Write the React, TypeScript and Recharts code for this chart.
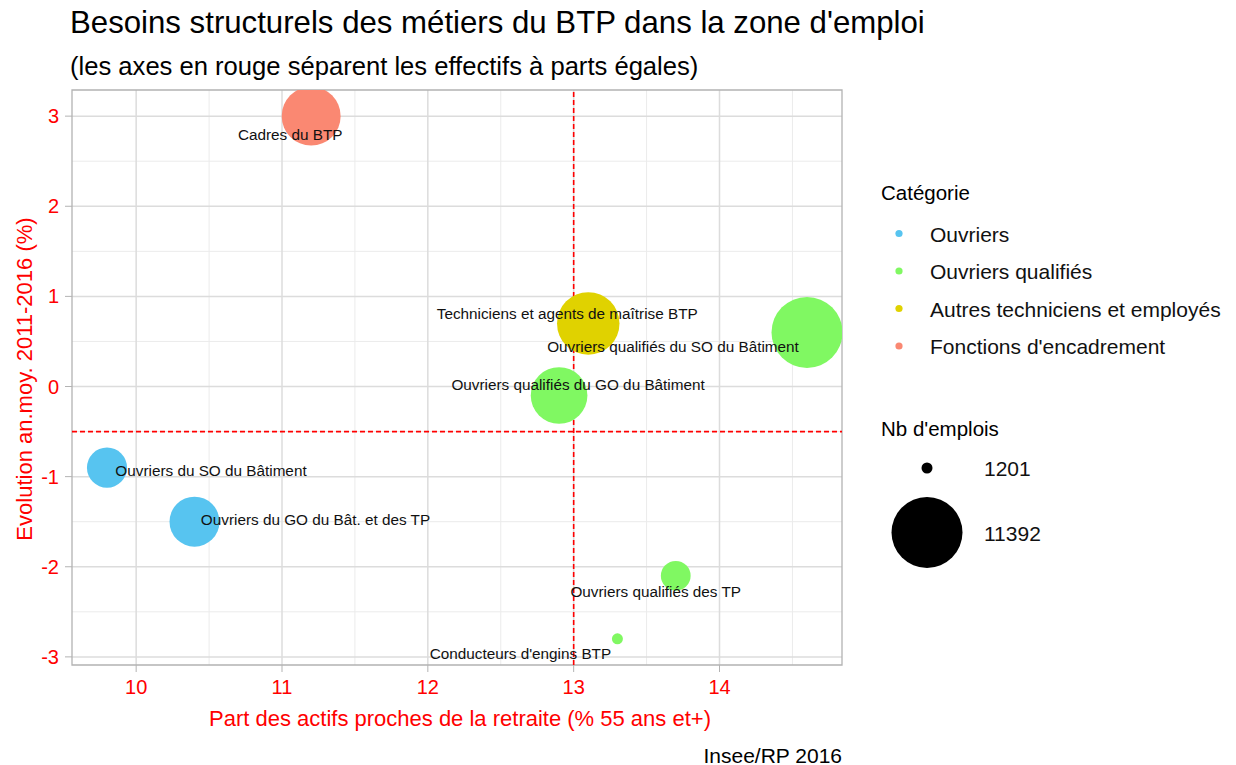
import React from 'react';
import {
  ScatterChart,
  Scatter,
  XAxis,
  YAxis,
  CartesianGrid,
  ReferenceLine,
  ReferenceArea,
} from 'recharts';

// métiers du BTP
const metiers = [
  'Cadres du BTP',
  'Techniciens et agents de maîtrise BTP',
  'Ouvriers qualifiés du SO du Bâtiment',
  'Ouvriers qualifiés du GO du Bâtiment',
  'Ouvriers du SO du Bâtiment',
  'Ouvriers du GO du Bât. et des TP',
  'Ouvriers qualifiés des TP',
  "Conducteurs d'engins BTP",
];
const categorieMetier = [
  "Fonctions d'encadrement",
  'Autres techniciens et employés',
  'Ouvriers qualifiés',
  'Ouvriers qualifiés',
  'Ouvriers',
  'Ouvriers',
  'Ouvriers qualifiés',
  'Ouvriers qualifiés',
];
const partRetraite = [11.2, 13.1, 14.6, 12.9, 9.8, 10.4, 13.7, 13.3];
const evolution = [3.0, 0.7, 0.6, -0.1, -0.9, -1.5, -2.1, -2.8];
const nbEmplois = [7700, 8700, 11392, 7100, 3600, 5500, 2200, 1201];

const categories = ['Ouvriers', 'Ouvriers qualifiés', 'Autres techniciens et employés', "Fonctions d'encadrement"];
const sizeBreaks = [1201, 11392];
const xTicks = [10, 11, 12, 13, 14];
const yTicks = [-3, -2, -1, 0, 1, 2, 3];
const xMinor = [10.5, 11.5, 12.5, 13.5, 14.5];
const yMinor = [-2.5, -1.5, -0.5, 0.5, 1.5, 2.5];
const seuilX = 13;
const seuilY = -0.5;

const couleurs: Record<string, string> = {
  Ouvriers: '#57C4F0',
  'Ouvriers qualifiés': '#80F862',
  'Autres techniciens et employés': '#E0D200',
  "Fonctions d'encadrement": '#FA8872',
};

// décalage des étiquettes (px), comme placées dans l'original
const labelNudge: Record<string, [number, number]> = {
  'Cadres du BTP': [-21, 18],
  'Techniciens et agents de maîtrise BTP': [-21, -10],
  'Ouvriers qualifiés du SO du Bâtiment': [-134, 14],
  'Ouvriers qualifiés du GO du Bâtiment': [19, -11],
  'Ouvriers du SO du Bâtiment': [104, 3],
  'Ouvriers du GO du Bât. et des TP': [121, -2],
  'Ouvriers qualifiés des TP': [-20, 16],
  "Conducteurs d'engins BTP": [-97, 15],
};

const FONT = '"Liberation Sans", Arial, sans-serif';
const X_DOMAIN: [number, number] = [9.56, 14.84];
const Y_DOMAIN: [number, number] = [-3.09, 3.29];
const R_MIN = 5.5;
const R_MAX = 35.5;

const nMin = Math.min(...sizeBreaks);
const nMax = Math.max(...sizeBreaks);
const radius = (n: number) => R_MIN + (R_MAX - R_MIN) * Math.sqrt((n - nMin) / (nMax - nMin));

const points = metiers.map((name, i) => ({
  name,
  cat: categorieMetier[i],
  x: partRetraite[i],
  y: evolution[i],
  n: nbEmplois[i],
}));

const Bubble = (props: any) => {
  const { cx, cy, payload, fill } = props;
  if (cx == null || cy == null) return null;
  return <circle cx={cx} cy={cy} r={radius(payload.n)} fill={fill} />;
};

const PointLabel = (props: any) => {
  const { cx, cy, payload } = props;
  if (cx == null || cy == null) return null;
  const [dx, dy] = labelNudge[payload.name] || [0, 0];
  return (
    <text
      x={cx + dx}
      y={cy + dy}
      textAnchor="middle"
      dominantBaseline="central"
      fontSize={15.3}
      fontFamily={FONT}
      fill="#111"
    >
      {payload.name}
    </text>
  );
};

export default function App() {
  return (
    <div
      style={{
        position: 'absolute',
        left: 0,
        top: 0,
        width: 1236,
        height: 765,
        background: '#fff',
        fontFamily: FONT,
      }}
    >
      <ScatterChart width={1236} height={765} margin={{ top: 90, right: 394, bottom: 30, left: 0 }}>
        <CartesianGrid
          verticalValues={xMinor}
          horizontalValues={yMinor}
          stroke="#ebebeb"
          strokeWidth={1}
        />
        <CartesianGrid
          verticalValues={xTicks}
          horizontalValues={yTicks}
          stroke="#dcdcdc"
          strokeWidth={1.5}
        />
        <XAxis
          type="number"
          dataKey="x"
          domain={X_DOMAIN}
          ticks={xTicks}
          allowDataOverflow
          height={70}
          axisLine={false}
          tickSize={7}
          tickMargin={8}
          tickLine={{ stroke: '#b3b3b3' }}
          tick={{ fill: '#FF0000', fontSize: 20, fontFamily: FONT }}
        />
        <YAxis
          type="number"
          dataKey="y"
          domain={Y_DOMAIN}
          ticks={yTicks}
          allowDataOverflow
          width={72}
          axisLine={false}
          tickSize={7}
          tickMargin={6}
          tickLine={{ stroke: '#b3b3b3' }}
          tick={{ fill: '#FF0000', fontSize: 20, fontFamily: FONT }}
        />
        {categories.map((cat) => (
          <Scatter
            key={cat}
            name={cat}
            data={points.filter((p) => p.cat === cat)}
            fill={couleurs[cat]}
            shape={<Bubble />}
            isAnimationActive={false}
          />
        ))}
        <ReferenceLine x={seuilX} stroke="#FF0000" strokeWidth={1.6} strokeDasharray="5 3" />
        <ReferenceLine y={seuilY} stroke="#FF0000" strokeWidth={1.6} strokeDasharray="5 3" />
        <Scatter data={points} shape={<PointLabel />} isAnimationActive={false} />
        <ReferenceArea
          x1={X_DOMAIN[0]}
          x2={X_DOMAIN[1]}
          y1={Y_DOMAIN[0]}
          y2={Y_DOMAIN[1]}
          fill="none"
          fillOpacity={0}
          stroke="#b3b3b3"
          strokeWidth={1.3}
        />
      </ScatterChart>

      <svg
        width={1236}
        height={765}
        style={{ position: 'absolute', left: 0, top: 0, pointerEvents: 'none' }}
        fontFamily={FONT}
      >
        <text x={70} y={22} dominantBaseline="central" fontSize={31.2} fill="#000">
          Besoins structurels des métiers du BTP dans la zone d'emploi
        </text>
        <text x={70} y={66} dominantBaseline="central" fontSize={25.6} fill="#000">
          (les axes en rouge séparent les effectifs à parts égales)
        </text>
        <text x={460} y={718} textAnchor="middle" dominantBaseline="central" fontSize={22} fill="#FF0000">
          Part des actifs proches de la retraite (% 55 ans et+)
        </text>
        <text
          x={24}
          y={379}
          textAnchor="middle"
          dominantBaseline="central"
          fontSize={22}
          fill="#FF0000"
          transform="rotate(-90 24 379)"
        >
          Evolution an.moy. 2011-2016 (%)
        </text>
        <text x={842} y={755} textAnchor="end" dominantBaseline="central" fontSize={21} fill="#000">
          Insee/RP 2016
        </text>

        <text x={881} y={192} dominantBaseline="central" fontSize={20.5} fill="#000">
          Catégorie
        </text>
        {categories.map((cat, i) => (
          <g key={cat}>
            <circle cx={899} cy={233.5 + i * 37.5} r={3.6} fill={couleurs[cat]} />
            <text x={930} y={234 + i * 37.5} dominantBaseline="central" fontSize={21} fill="#111">
              {cat}
            </text>
          </g>
        ))}

        <text x={881} y={428} dominantBaseline="central" fontSize={20.5} fill="#000">
          Nb d'emplois
        </text>
        {sizeBreaks.map((n, i) => (
          <g key={n}>
            <circle cx={927} cy={i === 0 ? 468 : 532.5} r={radius(n)} fill="#000" />
            <text x={984} y={i === 0 ? 468 : 533} dominantBaseline="central" fontSize={21} fill="#111">
              {n}
            </text>
          </g>
        ))}
      </svg>
    </div>
  );
}
